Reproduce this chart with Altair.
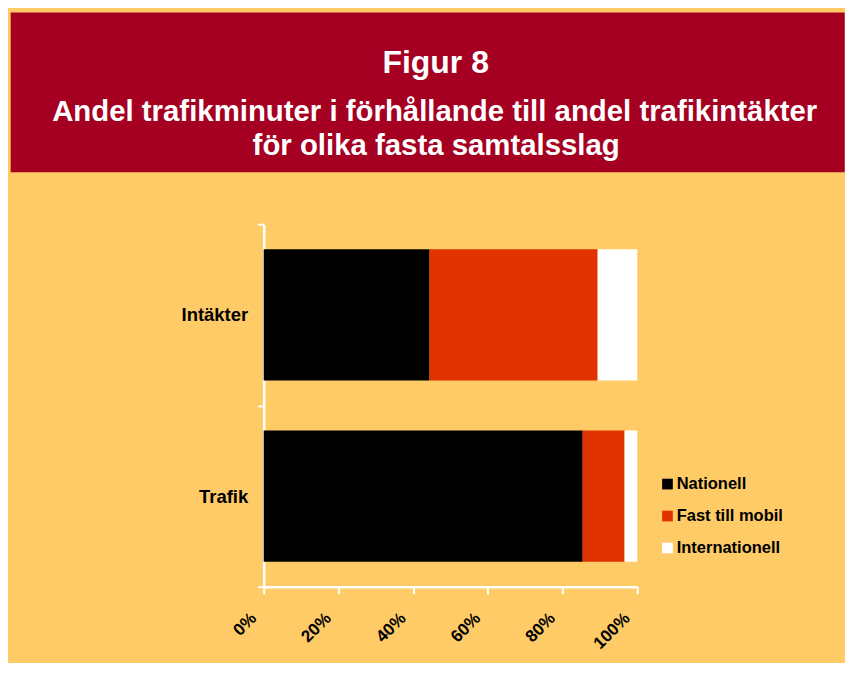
import altair as alt
import pandas as pd

# ---- data ----
categories = ["Intäkter", "Trafik"]
series = ["Nationell", "Fast till mobil", "Internationell"]
intakter_values = [44.4, 45.0, 10.6]
trafik_values = [85.4, 11.2, 3.4]
colors = ["#000000", "#E03300", "#FFFFFF"]
x_ticks = [0, 20, 40, 60, 80, 100]

title_main = "Figur 8"
title_sub1 = "Andel trafikminuter i förhållande till andel trafikintäkter"
title_sub2 = "för olika fasta samtalsslag"

rows = []
for cat, vals in zip(categories, [intakter_values, trafik_values]):
    for i, (s, v) in enumerate(zip(series, vals)):
        rows.append({"kategori": cat, "typ": s, "andel": v, "ordning": i})
df = pd.DataFrame(rows)

FONT = "Liberation Sans"
RED = "#A50021"
BG = "#FECB66"
W, H = 374, 363

one = pd.DataFrame({"k": [0]})

# header band (decoration, placed relative to the plot area)
band = alt.Chart(one).mark_rect(color=RED).encode(
    x=alt.value(-253.3), x2=alt.value(581.7),
    y=alt.value(-212), y2=alt.value(-52),
)


def title_line(text, size, x, y):
    return alt.Chart(pd.DataFrame({"t": [text]})).mark_text(
        font=FONT, fontSize=size, fontWeight="bold", color="white",
        align="center", baseline="alphabetic"
    ).encode(text="t:N", x=alt.value(x), y=alt.value(y))


bars = alt.Chart(df).mark_bar(height={"band": 0.724}).encode(
    y=alt.Y(
        "kategori:N", sort=categories,
        scale=alt.Scale(paddingInner=0, paddingOuter=0),
        axis=alt.Axis(
            title=None, domainColor="white", domainWidth=2.5,
            tickColor="white", tickWidth=2, tickSize=6, tickBand="extent",
            labelFont=FONT, labelFontSize=18.5, labelFontWeight="bold",
            labelColor="black", labelPadding=10,
        ),
    ),
    x=alt.X(
        "andel:Q", stack="zero",
        scale=alt.Scale(domain=[0, 100], nice=False),
        axis=alt.Axis(
            values=x_ticks, title=None, grid=False,
            labelExpr="datum.value + '%'",
            domainColor="white", domainWidth=2.5,
            tickColor="white", tickWidth=2, tickSize=7,
            labelFont=FONT, labelFontSize=17, labelFontWeight="bold",
            labelColor="black", labelAngle=315, labelAlign="right",
            labelBaseline="top", labelOffset=-16, labelPadding=16,
            labelFlush=False, labelOverlap=False,
        ),
    ),
    color=alt.Color(
        "typ:N", sort=series,
        scale=alt.Scale(domain=series, range=colors),
        legend=alt.Legend(
            orient="none", legendX=396, legendY=252, title=None,
            symbolType="square", symbolSize=115, symbolStrokeWidth=0,
            symbolOpacity=1,
            labelFont=FONT, labelFontSize=16.5, labelFontWeight="bold",
            labelColor="black", labelOffset=1, rowPadding=15, padding=0,
        ),
    ),
    order=alt.Order("ordning:Q"),
)

chart = alt.layer(
    band,
    title_line(title_main, 32, 172.2, -151.7),
    title_line(title_sub1, 29.4, 171.2, -103),
    title_line(title_sub2, 29.4, 172.7, -69),
    bars,
).properties(
    width=W, height=H,
    background=BG,
    padding={"left": 2, "top": 4, "right": 0, "bottom": 10},
).configure_view(strokeWidth=0)

chart.save("out.html", embed_options={"renderer": "svg", "actions": False})
